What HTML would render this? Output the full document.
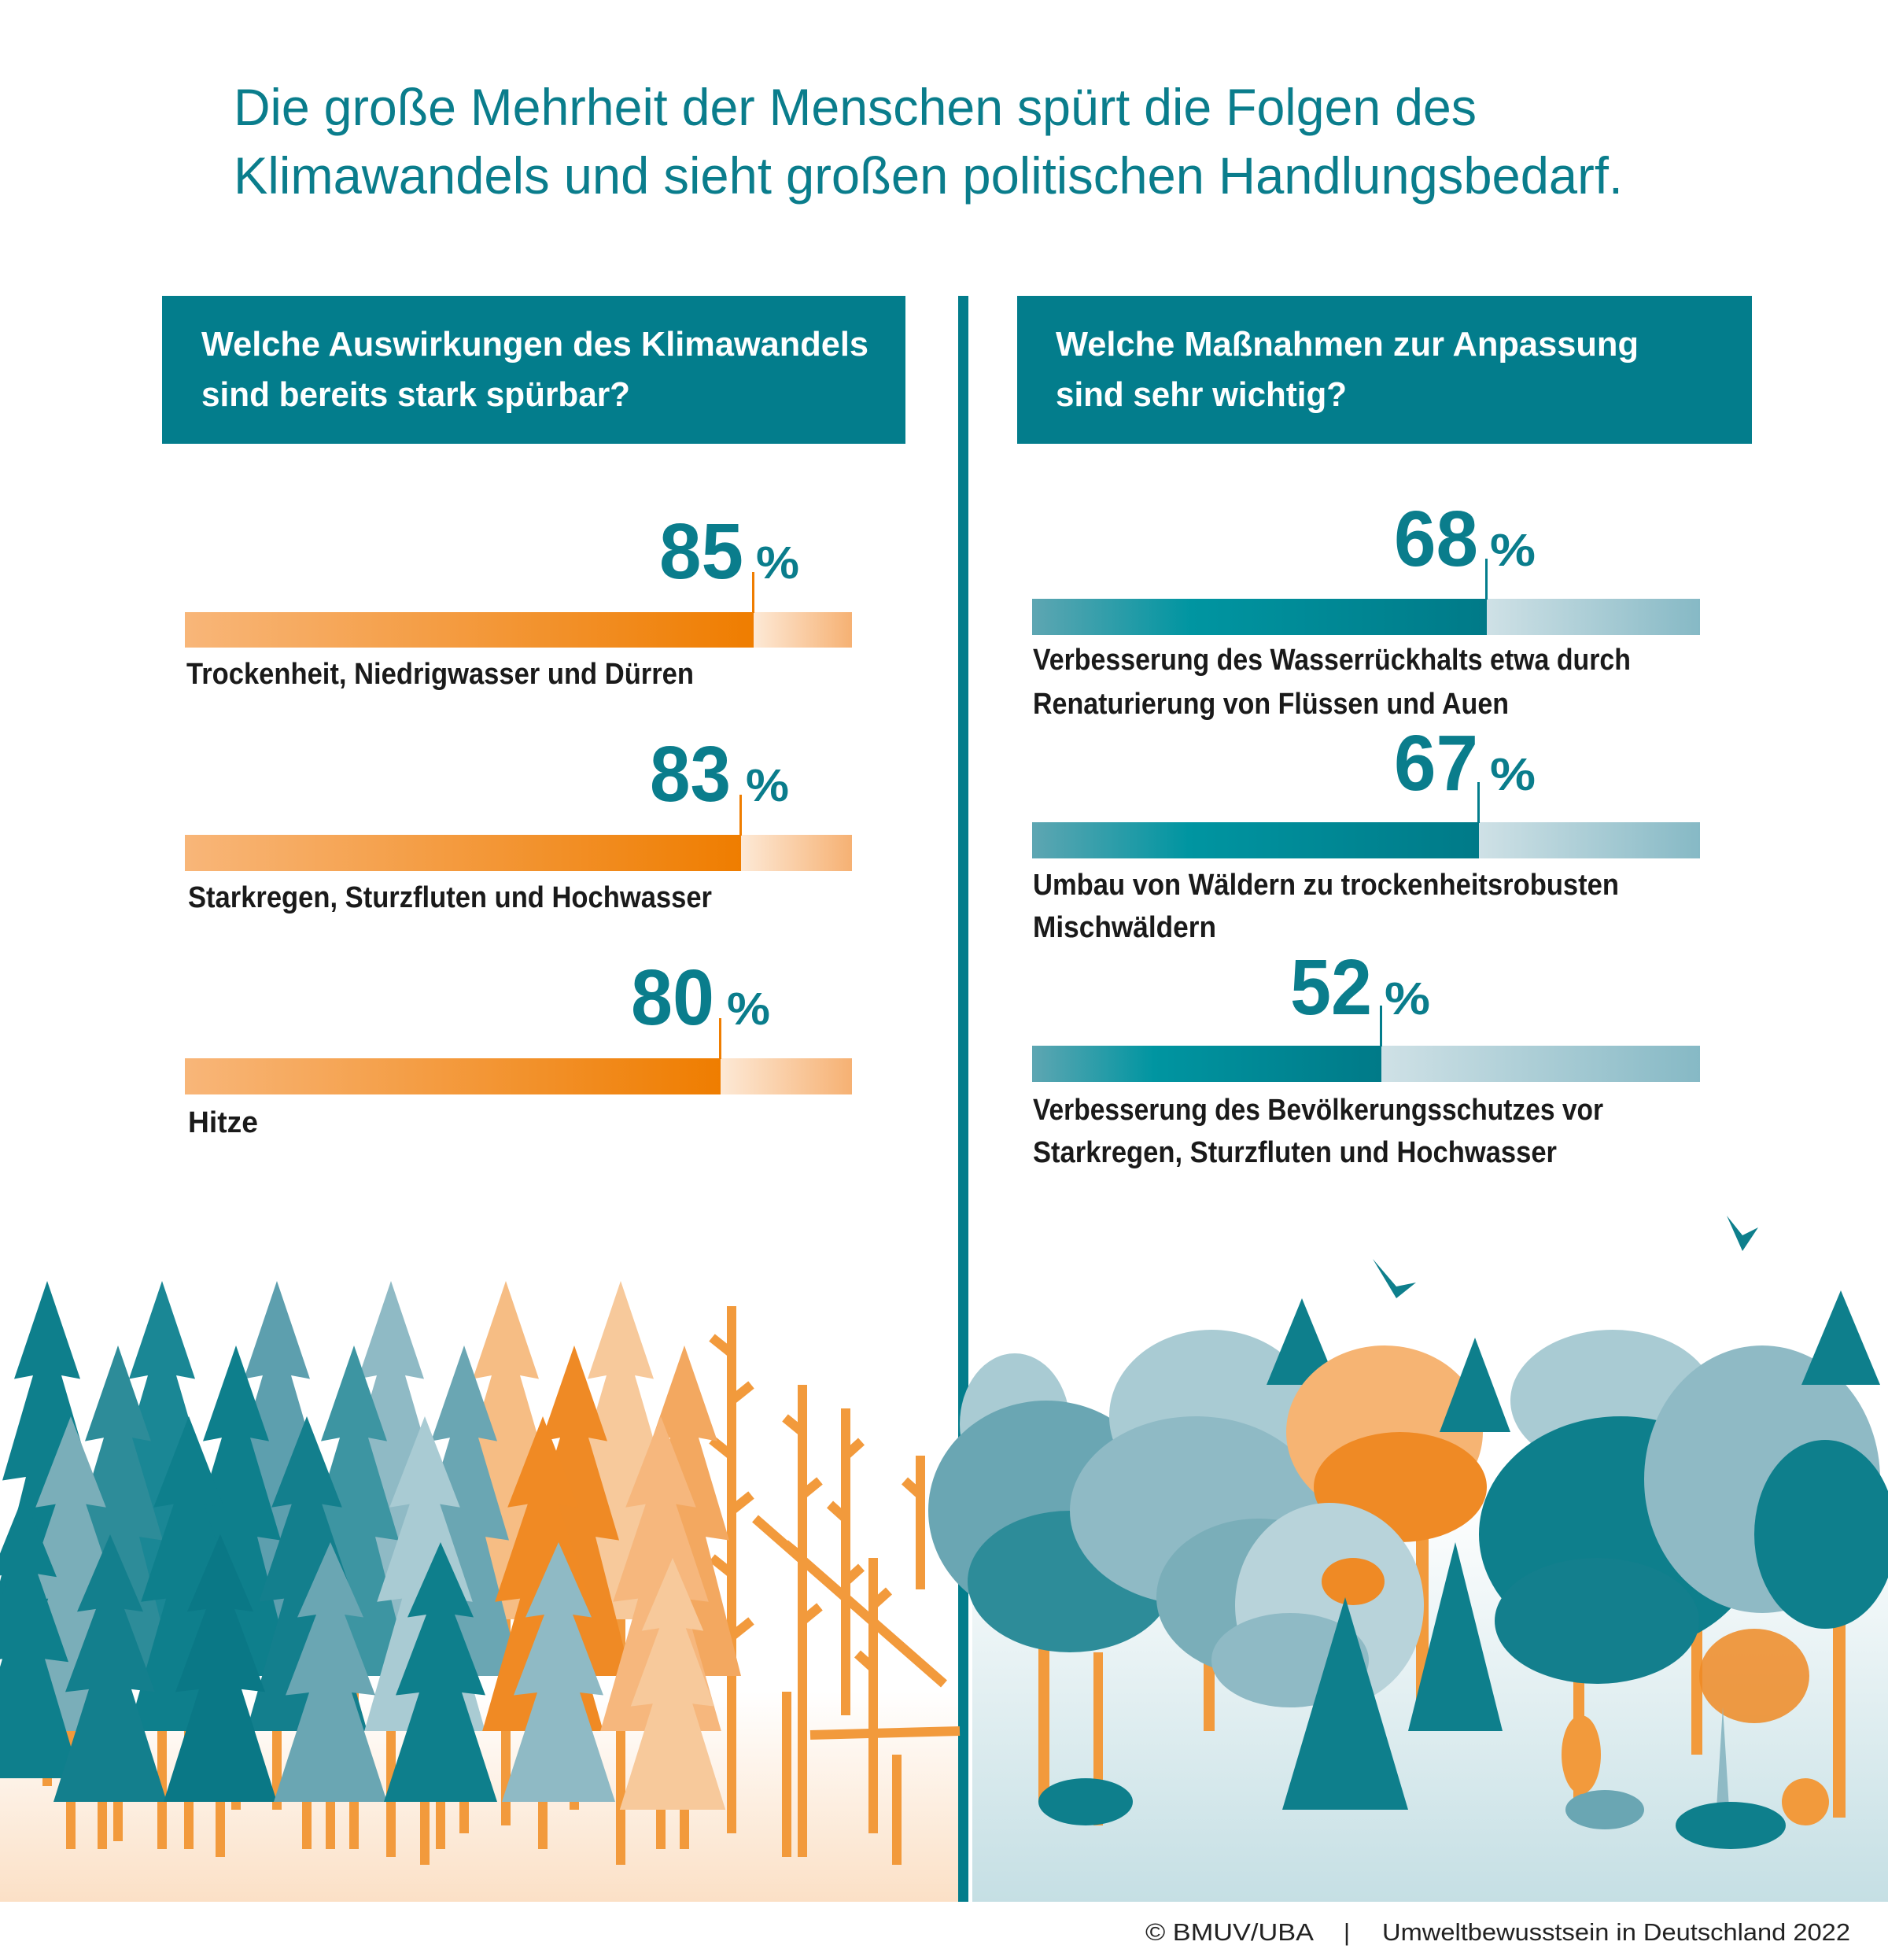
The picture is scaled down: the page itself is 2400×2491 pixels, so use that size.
<!DOCTYPE html>
<html><head><meta charset="utf-8"><style>
html,body{margin:0;padding:0;background:#fff}
svg{display:block}
.t{font-family:"Liberation Sans",sans-serif;fill:#0a7d8c}
.h{font-family:"Liberation Sans",sans-serif;font-weight:bold;fill:#fff;font-size:44px}
.n{font-family:"Liberation Sans Narrow","Liberation Sans",sans-serif;font-weight:bold;fill:#0a7d8c;font-size:100px}
.p{font-family:"Liberation Sans",sans-serif;font-weight:bold;fill:#0a7d8c;font-size:58px}
.l{font-family:"Liberation Sans Narrow","Liberation Sans",sans-serif;font-weight:bold;fill:#1a1a1a;font-size:38px}
.f{font-family:"Liberation Sans",sans-serif;fill:#222;font-size:31px}
</style></head><body>
<svg width="2400" height="2491" viewBox="0 0 2400 2491" xmlns="http://www.w3.org/2000/svg">
<defs>
<linearGradient id="go" x1="0" x2="1"><stop offset="0" stop-color="#f8b679"/><stop offset="1" stop-color="#ef7d00"/></linearGradient>
<linearGradient id="gol" x1="0" x2="1"><stop offset="0" stop-color="#fde9d6"/><stop offset="1" stop-color="#f6b173"/></linearGradient>
<linearGradient id="gt" x1="0" x2="1"><stop offset="0" stop-color="#5ea6b2"/><stop offset="0.35" stop-color="#0095a1"/><stop offset="1" stop-color="#007a88"/></linearGradient>
<linearGradient id="gtl" x1="0" x2="1"><stop offset="0" stop-color="#cfe1e6"/><stop offset="1" stop-color="#86b9c5"/></linearGradient>
<linearGradient id="bgl" x1="0" y1="0" x2="0" y2="1"><stop offset="0" stop-color="#fff"/><stop offset="1" stop-color="#fbe0c6"/></linearGradient>
<linearGradient id="bgr" x1="0" y1="0" x2="0" y2="1"><stop offset="0" stop-color="#fff"/><stop offset="1" stop-color="#c5dfe4"/></linearGradient>
<symbol id="fir" viewBox="0 0 100 190" preserveAspectRatio="none"><polygon points="50,0 78,55 62,53 88,112 68,110 98,190 2,190 32,110 12,112 38,53 22,55"/></symbol>
</defs>

<text class="t" x="297" y="159" font-size="66" textLength="1580" lengthAdjust="spacingAndGlyphs">Die große Mehrheit der Menschen spürt die Folgen des</text>
<text class="t" x="297" y="246" font-size="66" textLength="1766" lengthAdjust="spacingAndGlyphs">Klimawandels und sieht großen politischen Handlungsbedarf.</text>

<rect x="206" y="376" width="945" height="188" fill="#037d8c"/>
<rect x="1293" y="376" width="934" height="188" fill="#037d8c"/>
<text class="h" x="256" y="452" textLength="848" lengthAdjust="spacingAndGlyphs">Welche Auswirkungen des Klimawandels</text>
<text class="h" x="256" y="516" textLength="545" lengthAdjust="spacingAndGlyphs">sind bereits stark spürbar?</text>
<text class="h" x="1342" y="452" textLength="741" lengthAdjust="spacingAndGlyphs">Welche Maßnahmen zur Anpassung</text>
<text class="h" x="1342" y="516" textLength="370" lengthAdjust="spacingAndGlyphs">sind sehr wichtig?</text>

<rect x="0" y="2150" width="1220" height="267" fill="url(#bgl)"/>
<rect x="1236" y="1900" width="1164" height="517" fill="url(#bgr)"/>
<rect x="1218" y="376" width="13" height="2041" fill="#037d8c"/>

<rect x="958" y="778" width="125" height="45" fill="url(#gol)"/>
<rect x="235" y="778" width="723" height="45" fill="url(#go)"/>
<rect x="956" y="727" width="3" height="52" fill="#ef7d00"/>
<text class="n" x="838" y="735" textLength="107" lengthAdjust="spacingAndGlyphs">85</text>
<text class="p" x="961" y="735" textLength="55" lengthAdjust="spacingAndGlyphs">%</text>
<text class="l" x="237" y="869" textLength="645" lengthAdjust="spacingAndGlyphs">Trockenheit, Niedrigwasser und Dürren</text>

<rect x="942" y="1061" width="141" height="46" fill="url(#gol)"/>
<rect x="235" y="1061" width="707" height="46" fill="url(#go)"/>
<rect x="940" y="1010" width="3" height="52" fill="#ef7d00"/>
<text class="n" x="826" y="1018" textLength="103" lengthAdjust="spacingAndGlyphs">83</text>
<text class="p" x="948" y="1018" textLength="55" lengthAdjust="spacingAndGlyphs">%</text>
<text class="l" x="239" y="1153" textLength="666" lengthAdjust="spacingAndGlyphs">Starkregen, Sturzfluten und Hochwasser</text>

<rect x="916" y="1345" width="167" height="46" fill="url(#gol)"/>
<rect x="235" y="1345" width="681" height="46" fill="url(#go)"/>
<rect x="914" y="1294" width="3" height="52" fill="#ef7d00"/>
<text class="n" x="802" y="1302" textLength="106" lengthAdjust="spacingAndGlyphs">80</text>
<text class="p" x="924" y="1302" textLength="55" lengthAdjust="spacingAndGlyphs">%</text>
<text class="l" x="239" y="1439" textLength="89" lengthAdjust="spacingAndGlyphs">Hitze</text>

<rect x="1890" y="761" width="271" height="46" fill="url(#gtl)"/>
<rect x="1312" y="761" width="578" height="46" fill="url(#gt)"/>
<rect x="1888" y="710" width="3" height="52" fill="#037d8c"/>
<text class="n" x="1772" y="719" textLength="107" lengthAdjust="spacingAndGlyphs">68</text>
<text class="p" x="1894" y="719" textLength="58" lengthAdjust="spacingAndGlyphs">%</text>
<text class="l" x="1313" y="851" textLength="760" lengthAdjust="spacingAndGlyphs">Verbesserung des Wasserrückhalts etwa durch</text>
<text class="l" x="1313" y="907" textLength="605" lengthAdjust="spacingAndGlyphs">Renaturierung von Flüssen und Auen</text>

<rect x="1880" y="1045" width="281" height="46" fill="url(#gtl)"/>
<rect x="1312" y="1045" width="568" height="46" fill="url(#gt)"/>
<rect x="1878" y="994" width="3" height="52" fill="#037d8c"/>
<text class="n" x="1772" y="1004" textLength="107" lengthAdjust="spacingAndGlyphs">67</text>
<text class="p" x="1894" y="1004" textLength="58" lengthAdjust="spacingAndGlyphs">%</text>
<text class="l" x="1313" y="1137" textLength="745" lengthAdjust="spacingAndGlyphs">Umbau von Wäldern zu trockenheitsrobusten</text>
<text class="l" x="1313" y="1191" textLength="233" lengthAdjust="spacingAndGlyphs">Mischwäldern</text>

<rect x="1756" y="1329" width="405" height="46" fill="url(#gtl)"/>
<rect x="1312" y="1329" width="444" height="46" fill="url(#gt)"/>
<rect x="1754" y="1278" width="3" height="52" fill="#037d8c"/>
<text class="n" x="1640" y="1289" textLength="104" lengthAdjust="spacingAndGlyphs">52</text>
<text class="p" x="1760" y="1289" textLength="58" lengthAdjust="spacingAndGlyphs">%</text>
<text class="l" x="1313" y="1423" textLength="725" lengthAdjust="spacingAndGlyphs">Verbesserung des Bevölkerungsschutzes vor</text>
<text class="l" x="1313" y="1477" textLength="666" lengthAdjust="spacingAndGlyphs">Starkregen, Sturzfluten und Hochwasser</text>

<g fill="#f29a3c">
<rect x="54" y="1900" width="12" height="370"/><rect x="200" y="1900" width="12" height="450"/>
<rect x="346" y="1900" width="12" height="400"/><rect x="491" y="1900" width="12" height="460"/>
<rect x="637" y="1900" width="12" height="420"/><rect x="783" y="1900" width="12" height="470"/>
<rect x="144" y="2000" width="12" height="340"/><rect x="294" y="2000" width="12" height="300"/>
<rect x="444" y="2000" width="12" height="350"/><rect x="584" y="2000" width="12" height="330"/>
<rect x="724" y="2000" width="12" height="300"/><rect x="864" y="2000" width="12" height="350"/>
<rect x="84" y="2100" width="12" height="250"/><rect x="234" y="2100" width="12" height="250"/>
<rect x="384" y="2100" width="12" height="250"/><rect x="534" y="2100" width="12" height="270"/>
<rect x="684" y="2100" width="12" height="250"/><rect x="834" y="2100" width="12" height="250"/>
<rect x="124" y="2150" width="12" height="200"/><rect x="274" y="2150" width="12" height="210"/>
<rect x="414" y="2150" width="12" height="200"/><rect x="554" y="2150" width="12" height="200"/>
</g>
<g stroke="#f29a3c" stroke-width="12" fill="none">
<path d="M930 1660 V2330 M930 1720 l-25 -20 M930 1780 l25 -20 M930 1850 l-25 -20 M930 1920 l25 -20 M930 2000 l-25 -20 M930 2080 l25 -20"/>
<path d="M1020 1760 V2360 M1020 1820 l-22 -18 M1020 1900 l22 -18 M1020 1980 l-22 -18 M1020 2060 l22 -18"/>
<path d="M1075 1790 V2180 M1075 1850 l20 -18 M1075 1930 l-20 -18 M1075 2010 l20 -18"/>
<path d="M1170 1850 V2020 M1170 1900 l-20 -18"/>
<path d="M1110 1980 V2330 M1110 2040 l20 -18 M1110 2120 l-20 -18"/>
<path d="M960 1930 L1200 2140"/>
<path d="M1030 2205 L1220 2200"/>
<path d="M1000 2150 V2360"/><path d="M1140 2230 V2370"/>
</g>
<g>
<use href="#fir" x="-15" y="1628" width="150" height="430" fill="#0e7f8c"/>
<use href="#fir" x="131" y="1628" width="150" height="430" fill="#1a8795"/>
<use href="#fir" x="277" y="1628" width="150" height="430" fill="#5d9fae"/>
<use href="#fir" x="422" y="1628" width="150" height="430" fill="#8fbac5"/>
<use href="#fir" x="568" y="1628" width="150" height="430" fill="#f6bd84"/>
<use href="#fir" x="714" y="1628" width="150" height="430" fill="#f7c99b"/>
<use href="#fir" x="75" y="1710" width="150" height="420" fill="#2d8c99"/>
<use href="#fir" x="225" y="1710" width="150" height="420" fill="#0e7f8c"/>
<use href="#fir" x="375" y="1710" width="150" height="420" fill="#3d95a2"/>
<use href="#fir" x="515" y="1710" width="150" height="420" fill="#6aa6b3"/>
<use href="#fir" x="655" y="1710" width="150" height="420" fill="#ef8a25"/>
<use href="#fir" x="795" y="1710" width="150" height="420" fill="#f3a860"/>
<use href="#fir" x="10" y="1800" width="160" height="400" fill="#7aaeb9"/>
<use href="#fir" x="160" y="1800" width="160" height="400" fill="#0e7f8c"/>
<use href="#fir" x="310" y="1800" width="160" height="400" fill="#137f8d"/>
<use href="#fir" x="460" y="1800" width="160" height="400" fill="#a9cbd3"/>
<use href="#fir" x="610" y="1800" width="160" height="400" fill="#f08a24"/>
<use href="#fir" x="760" y="1800" width="160" height="400" fill="#f6b77d"/>
<use href="#fir" x="-45" y="1900" width="150" height="360" fill="#0e7f8c"/>
<use href="#fir" x="65" y="1950" width="150" height="340" fill="#137f8d"/>
<use href="#fir" x="205" y="1950" width="150" height="340" fill="#0a7886"/>
<use href="#fir" x="345" y="1960" width="150" height="330" fill="#6aa6b3"/>
<use href="#fir" x="485" y="1960" width="150" height="330" fill="#0e7f8c"/>
<use href="#fir" x="635" y="1960" width="150" height="330" fill="#8fbac5"/>
<use href="#fir" x="785" y="1980" width="140" height="320" fill="#f7c99b"/>
</g>

<g fill="#f29a3c">
<rect x="1320" y="2020" width="14" height="270"/><rect x="1530" y="1900" width="14" height="300"/>
<rect x="1800" y="1920" width="16" height="280"/><rect x="2000" y="2050" width="14" height="250"/>
<rect x="2330" y="1950" width="16" height="360"/><rect x="2150" y="2050" width="14" height="180"/>
<rect x="1390" y="2100" width="12" height="220"/>
</g>
<g>
<ellipse cx="1290" cy="1810" rx="70" ry="90" fill="#a9cbd3"/>
<ellipse cx="1330" cy="1920" rx="150" ry="140" fill="#6aa6b3"/>
<ellipse cx="1360" cy="2010" rx="130" ry="90" fill="#2d8c99"/>
<ellipse cx="1540" cy="1800" rx="130" ry="110" fill="#a9cbd3"/>
<ellipse cx="1520" cy="1920" rx="160" ry="120" fill="#8fbac5"/>
<ellipse cx="1600" cy="2030" rx="130" ry="100" fill="#7aaeb9"/>
<polygon points="1655,1650 1700,1760 1610,1760" fill="#0e7f8c"/>
<ellipse cx="1760" cy="1820" rx="125" ry="110" fill="#f6b473"/>
<ellipse cx="1780" cy="1890" rx="110" ry="70" fill="#ef8a25"/>
<ellipse cx="1690" cy="2040" rx="120" ry="130" fill="#b8d3da"/>
<ellipse cx="1640" cy="2110" rx="100" ry="60" fill="#8fbac5"/>
<ellipse cx="1720" cy="2010" rx="40" ry="30" fill="#ef8a25"/>
<polygon points="1710,2030 1790,2300 1630,2300" fill="#0e7f8c"/>
<polygon points="1850,1960 1910,2200 1790,2200" fill="#0e7f8c"/>
<polygon points="1875,1700 1920,1820 1830,1820" fill="#0e7f8c"/>
<ellipse cx="2050" cy="1780" rx="130" ry="90" fill="#a9cbd3"/>
<ellipse cx="2060" cy="1950" rx="180" ry="150" fill="#0e7f8c"/>
<ellipse cx="2030" cy="2060" rx="130" ry="80" fill="#137f8d"/>
<ellipse cx="2240" cy="1880" rx="150" ry="170" fill="#8fbac5"/>
<ellipse cx="2320" cy="1950" rx="90" ry="120" fill="#0e7f8c"/>
<polygon points="2340,1640 2390,1760 2290,1760" fill="#0e7f8c"/>
<ellipse cx="2230" cy="2130" rx="70" ry="60" fill="#ef8a25" opacity="0.85"/>
<path d="M2180 2330 L2190 2170 L2200 2330 Z" fill="#8fbac5"/>
<ellipse cx="1380" cy="2290" rx="60" ry="30" fill="#0e7f8c"/>
<ellipse cx="2040" cy="2300" rx="50" ry="25" fill="#6aa6b3"/>
<ellipse cx="2200" cy="2320" rx="70" ry="30" fill="#0e7f8c"/>
<ellipse cx="2010" cy="2230" rx="25" ry="50" fill="#f29a3c"/>
<ellipse cx="2295" cy="2290" rx="30" ry="30" fill="#f29a3c"/>
<path d="M2195 1545 l20 25 l20 -10 l-20 30 z" fill="#0e7f8c"/>
<path d="M1745 1600 l30 35 l25 -5 l-25 20 z" fill="#0e7f8c"/>
</g>

<rect x="0" y="2417" width="2400" height="74" fill="#fff"/>
<text class="f" x="1456" y="2466" textLength="214" lengthAdjust="spacingAndGlyphs">© BMUV/UBA</text>
<text class="f" x="1708" y="2466">|</text>
<text class="f" x="1757" y="2466" textLength="595" lengthAdjust="spacingAndGlyphs">Umweltbewusstsein in Deutschland 2022</text>
</svg>
</body></html>
